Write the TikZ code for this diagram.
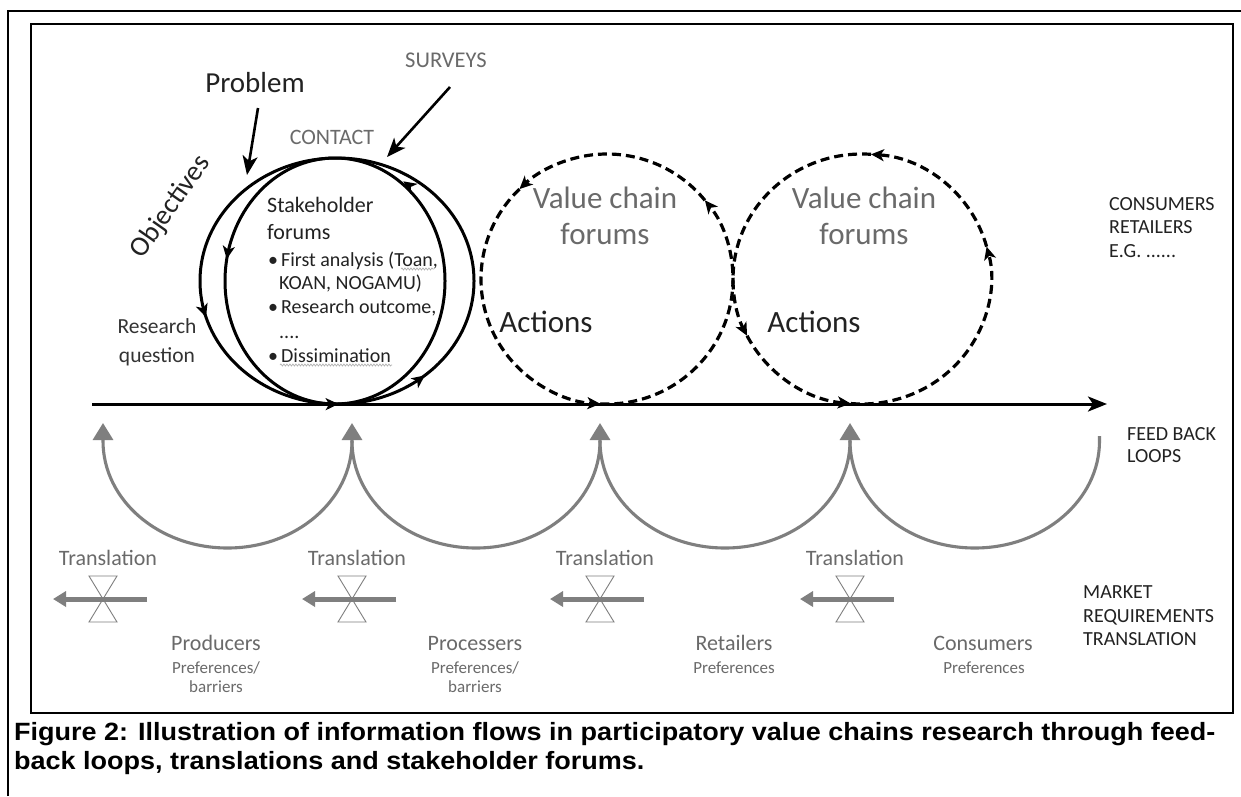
\documentclass[tikz,border=0pt]{standalone}
\usepackage{fontspec}
\setmainfont{Carlito}
\newfontfamily\capfont{Liberation Sans}
\usetikzlibrary{arrows.meta,decorations.markings,decorations.pathmorphing,calc}
\definecolor{fbgray}{HTML}{7F7F7F}
\definecolor{txtgray}{HTML}{6A6A6A}
\definecolor{darktxt}{HTML}{222222}
\newcommand{\myfs}[1]{\fontsize{#1}{#1}\selectfont}
\tikzset{
  ctip/.tip={Stealth[length=13pt,width=12pt,inset=3.5pt]},
  btip/.tip={Stealth[length=19pt,width=15pt,inset=5pt]},
  frameline/.style={line width=2pt,black},
  loopline/.style={line width=3pt,black},
  dashloop/.style={line width=3.2pt,black,dash pattern=on 9pt off 5pt,-ctip},
  mainarrow/.style={line width=3pt,black,-btip},
  pointer/.style={line width=2.6pt,black,-btip},
  fbarc/.style={line width=3.1pt,fbgray,-{Triangle[length=17pt,width=20pt]}},
  transarrow/.style={line width=5pt,fbgray,-{Triangle[length=13pt,width=15pt]}},
  bowtie/.style={draw=fbgray,fill=white,line width=0.9pt,line join=miter},
  lbl/.style={inner sep=0pt,text=darktxt},
  glbl/.style={inner sep=0pt,text=txtgray},
  spell/.style={draw=black!30,line width=0.7pt,decorate,decoration={snake,amplitude=1pt,segment length=3pt}},
}
\begin{document}
\begin{tikzpicture}[x=1pt,y=1pt]
\useasboundingbox (0,0) rectangle (1241,-796);
\fill[white] (0,0) rectangle (1241,-796);

% frames
\coordinate (ofA) at (8,-796);
\coordinate (ofB) at (8,-11);
\coordinate (ofC) at (1241,-11);
\draw[frameline] (ofA) -- (ofB) -- (ofC);
\draw[frameline] (31,-24) rectangle (1233,-713);

% main line
\coordinate (ls) at (92,-404);
\coordinate (le) at (1107,-404);
\draw[mainarrow] (ls) -- (le);

% stakeholder loops
\coordinate (oc) at (337,-281);
\coordinate (ic) at (335,-281);
\draw[loopline,postaction={decorate},decoration={markings,
  mark=at position 0.545 with {\arrow{ctip}},
  mark=at position 0.752 with {\arrow{ctip}},
  mark=at position 0.865 with {\arrow{ctip}}}]
  (oc) ellipse [x radius=137, y radius=123];
\draw[loopline,postaction={decorate},decoration={markings,
  mark=at position 0.47 with {\arrow{ctip}},
  mark=at position 0.15 with {\arrow{ctip}}}]
  (ic) ellipse [x radius=110, y radius=123];

% value chain loops (dashed, arrow at the end of each piece)
\coordinate (vc1) at (607,-279);
\coordinate (vc2) at (862,-279);
\draw[dashloop] ([shift={(134:126 and 125)}]vc1) arc[start angle=134,end angle=267,x radius=126,y radius=125];
\draw[dashloop] ([shift={(267:126 and 125)}]vc1) arc[start angle=267,end angle=399,x radius=126,y radius=125];
\draw[dashloop] ([shift={(39:126 and 125)}]vc1) arc[start angle=39,end angle=134,x radius=126,y radius=125];
\draw[dashloop] ([shift={(15:129 and 125)}]vc2) arc[start angle=15,end angle=86,x radius=129,y radius=125];
\draw[dashloop] ([shift={(86:129 and 125)}]vc2) arc[start angle=86,end angle=207,x radius=129,y radius=125];
\draw[dashloop] ([shift={(207:129 and 125)}]vc2) arc[start angle=207,end angle=265,x radius=129,y radius=125];
\draw[dashloop] ([shift={(265:129 and 125)}]vc2) arc[start angle=265,end angle=375,x radius=129,y radius=125];

% top labels and pointers
\node[lbl,anchor=base,font=\myfs{29}] (problem) at (255,-92) {Problem};
\coordinate (pA) at (258,-108);
\coordinate (pB) at (247,-175);
\draw[pointer] (pA) -- (pB);
\node[glbl,anchor=base,font=\myfs{22.5}] (surveys) at (446,-67) {SURVEYS};
\coordinate (sA) at (450,-87);
\coordinate (sB) at (387,-157);
\draw[pointer] (sA) -- (sB);
\node[glbl,anchor=base,font=\myfs{22}] (contact) at (332,-144) {CONTACT};
\node[lbl,font=\myfs{28},rotate=55] (objectives) at (171,-207) {Objectives};
\node[lbl,anchor=base,font=\myfs{21.5},text=black!80] (rq1) at (157,-333) {Research};
\node[lbl,anchor=base,font=\myfs{21.5},text=black!80] (rq2) at (157,-362) {question};

% stakeholder forum text
\node[lbl,anchor=base west,font=\myfs{22}] (sh1) at (267,-212) {Stakeholder};
\node[lbl,anchor=base west,font=\myfs{22}] (sh2) at (267,-239) {forums};
\node[lbl,anchor=base west,font=\myfs{20}] (b1) at (268,-266) {\textbullet\hspace{3pt}First analysis (Toan,};
\node[lbl,anchor=base west,font=\myfs{20}] (b1b) at (279,-289) {KOAN, NOGAMU)};
\node[lbl,anchor=base west,font=\myfs{20}] (b2) at (268,-313) {\textbullet\hspace{3pt}Research outcome,};
\node[lbl,anchor=base west,font=\myfs{20}] (b2b) at (279,-338) {....};
\node[lbl,anchor=base west,font=\myfs{20}] (b3) at (268,-362) {\textbullet\hspace{3pt}Dissimination};
\coordinate (w1a) at (401,-269);
\coordinate (w1b) at (434,-269);
\draw[spell] (w1a) -- (w1b);
\coordinate (w2a) at (280,-365);
\coordinate (w2b) at (392,-365);
\draw[spell] (w2a) -- (w2b);

% value chain labels
\node[glbl,anchor=base,font=\myfs{31}] (vc1a) at (605,-208) {Value chain};
\node[glbl,anchor=base,font=\myfs{31}] (vc1b) at (605,-244) {forums};
\node[glbl,anchor=base,font=\myfs{31}] (vc2a) at (864,-208) {Value chain};
\node[glbl,anchor=base,font=\myfs{31}] (vc2b) at (864,-244) {forums};
\node[lbl,anchor=base,font=\myfs{31}] (act1) at (546,-332) {Actions};
\node[lbl,anchor=base,font=\myfs{31}] (act2) at (814,-332) {Actions};

% right side labels
\node[lbl,anchor=base west,font=\myfs{20}] (r1) at (1109,-210) {CONSUMERS};
\node[lbl,anchor=base west,font=\myfs{20}] (r2) at (1109,-233) {RETAILERS};
\node[lbl,anchor=base west,font=\myfs{20}] (r3) at (1109,-257) {E.G. ......};
\node[lbl,anchor=base west,font=\myfs{20}] (fb1t) at (1127,-440) {FEED BACK};
\node[lbl,anchor=base west,font=\myfs{20}] (fb2t) at (1127,-462) {LOOPS};
\node[lbl,anchor=base west,font=\myfs{20}] (m1) at (1083,-598) {MARKET};
\node[lbl,anchor=base west,font=\myfs{20}] (m2) at (1083,-622) {REQUIREMENTS};
\node[lbl,anchor=base west,font=\myfs{20}] (m3) at (1083,-645) {TRANSLATION};

% feedback loops
\coordinate (f1) at (103,-423);
\coordinate (f2) at (352,-423);
\coordinate (f3) at (600,-423);
\coordinate (f4) at (850,-423);
\coordinate (g2) at (352,-441);
\coordinate (g3) at (600,-441);
\coordinate (g4) at (850,-441);
\coordinate (g5) at (1099.5,-436);
\draw[fbarc] (g5) -- ++(0,-5) arc[start angle=0,end angle=-180,x radius=124.75,y radius=107] -- (f4);
\draw[fbarc] (g4) arc[start angle=0,end angle=-180,x radius=125,y radius=107] -- (f3);
\draw[fbarc] (g3) arc[start angle=0,end angle=-180,x radius=124,y radius=107] -- (f2);
\draw[fbarc] (g2) arc[start angle=0,end angle=-180,x radius=124.5,y radius=107] -- (f1);

% translations
\foreach \i/\bx in {1/103,2/352,3/600,4/850}{
  \coordinate (tc\i) at (\bx,-599);
  \draw[bowtie] ($(tc\i)+(-14,23)$) -- ($(tc\i)+(14,23)$) -- ($(tc\i)+(-14,-23)$) -- ($(tc\i)+(14,-23)$) -- cycle;
  \coordinate (ta\i) at (\bx+44,-599);
  \coordinate (tb\i) at (\bx-50,-599);
  \draw[transarrow] (ta\i) -- (tb\i);
  \node[glbl,anchor=base,font=\myfs{22}] (tl\i) at (\bx+5,-565) {Translation};
}

% actors
\node[glbl,anchor=base,font=\myfs{22}] (pr1) at (216,-650) {Producers};
\node[glbl,anchor=base,font=\myfs{17}] (pr2) at (216,-673) {Preferences/};
\node[glbl,anchor=base,font=\myfs{17}] (pr3) at (216,-692) {barriers};
\node[glbl,anchor=base,font=\myfs{22}] (pc1) at (475,-650) {Processers};
\node[glbl,anchor=base,font=\myfs{17}] (pc2) at (475,-673) {Preferences/};
\node[glbl,anchor=base,font=\myfs{17}] (pc3) at (475,-692) {barriers};
\node[glbl,anchor=base,font=\myfs{22}] (re1) at (734,-650) {Retailers};
\node[glbl,anchor=base,font=\myfs{17}] (re2) at (734,-673) {Preferences};
\node[glbl,anchor=base,font=\myfs{22}] (co1) at (983,-650) {Consumers};
\node[glbl,anchor=base,font=\myfs{17}] (co2) at (984,-673) {Preferences};

% caption
\node[inner sep=0pt,anchor=base west,font=\capfont\bfseries\myfs{25}] (cap1) at (14,-740) {\scalebox{1.08}[1]{Figure 2: Illustration of information flows in participatory value chains research through feed-}};
\node[inner sep=0pt,anchor=base west,font=\capfont\bfseries\myfs{25}] (cap2) at (14,-769) {\scalebox{1.08}[1]{back loops, translations and stakeholder forums.}};
\end{tikzpicture}
\end{document}
